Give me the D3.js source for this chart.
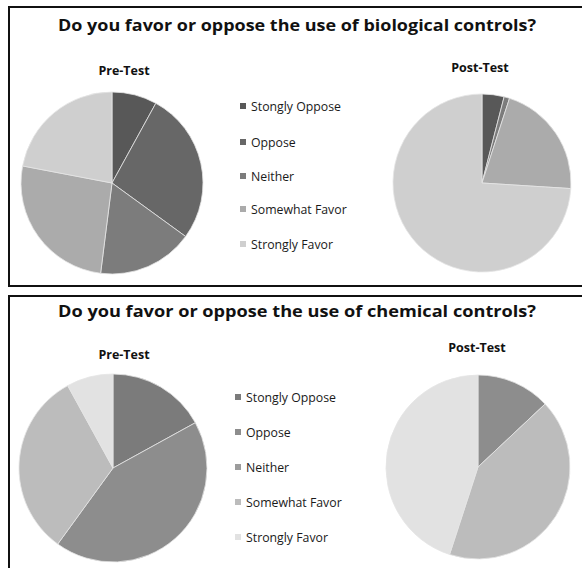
<!DOCTYPE html>
<html>
<head>
<meta charset="utf-8">
<script src="https://cdn.jsdelivr.net/npm/d3@7"></script>
<style>
  body { margin: 0; background: #fff; }
  svg { display: block; }
</style>
</head>
<body>
<div id="chart"></div>
<script>
// categories shared by both charts
const categories = ['Stongly Oppose', 'Oppose', 'Neither', 'Somewhat Favor', 'Strongly Favor'];

// percentages
const bioPre = [8, 27, 17, 26, 22];
const bioPost = [4, 0, 1, 21, 74];
const chemPre = [17, 43, 0, 32, 8];
const chemPost = [0, 13, 0, 42, 45];

const bioColors = ['#585858', '#676767', '#7c7c7c', '#ababab', '#cfcfcf'];
const chemColors = ['#7b7b7b', '#8d8d8d', '#9c9c9c', '#bcbcbc', '#e2e2e2'];

const titles = [
  'Do you favor or oppose the use of biological controls?',
  'Do you favor or oppose the use of chemical controls?'
];

const w = 582;
const h = 568;
const font = "'Open Sans', sans-serif";

const svg = d3.select('#chart').append('svg')
  .attr('width', w)
  .attr('height', h);

const pie = d3.pie().sort(null).value(d => d);

const panels = [
  { y: 7, height: 279, title: titles[0], titleY: 31, colors: bioColors,
    pies: [
      { label: 'Pre-Test', data: bioPre, cx: 112, cy: 183, r: 91, labelX: 124, labelY: 75 },
      { label: 'Post-Test', data: bioPost, cx: 482, cy: 183, r: 89, labelX: 480, labelY: 72 }
    ],
    legendX: 243, legendY: [106, 142, 176, 209, 244] },
  { y: 296, height: 300, title: titles[1], titleY: 317, colors: chemColors,
    pies: [
      { label: 'Pre-Test', data: chemPre, cx: 113, cy: 468, r: 94, labelX: 124, labelY: 359 },
      { label: 'Post-Test', data: chemPost, cx: 478, cy: 467, r: 92, labelX: 477, labelY: 352 }
    ],
    legendX: 238, legendY: [397, 432, 467, 502, 537] }
];

panels.forEach(p => {
  const g = svg.append('g');

  // frame (right / bottom edges run off the picture)
  g.append('rect')
    .attr('x', 9)
    .attr('y', p.y)
    .attr('width', 620)
    .attr('height', p.height)
    .attr('fill', 'none')
    .attr('stroke', '#111')
    .attr('stroke-width', 2);

  g.append('text')
    .attr('x', 297)
    .attr('y', p.titleY)
    .attr('text-anchor', 'middle')
    .attr('font-family', font)
    .attr('font-weight', 'bold')
    .attr('font-size', 16.5)
    .attr('textLength', 478)
    .attr('lengthAdjust', 'spacingAndGlyphs')
    .attr('fill', '#111')
    .text(p.title);

  const color = d3.scaleOrdinal().domain(categories).range(p.colors);

  p.pies.forEach(pc => {
    const arc = d3.arc().innerRadius(0).outerRadius(pc.r);

    g.append('text')
      .attr('x', pc.labelX)
      .attr('y', pc.labelY)
      .attr('text-anchor', 'middle')
      .attr('font-family', font)
      .attr('font-weight', 'bold')
      .attr('font-size', 12.5)
      .attr('fill', '#111')
      .text(pc.label);

    g.append('g')
      .attr('transform', `translate(${pc.cx}, ${pc.cy})`)
      .selectAll('path')
      .data(pie(pc.data))
      .enter()
      .append('path')
      .attr('d', arc)
      .attr('fill', (d, i) => color(categories[i]))
      .attr('stroke', '#e4e4e4')
      .attr('stroke-width', d => d.value > 0 ? 0.8 : 0);
  });

  // LEGEND
  const leg = g.selectAll('.leg')
    .data(categories)
    .enter()
    .append('g')
    .attr('transform', (d, i) => `translate(${p.legendX}, ${p.legendY[i]})`);

  leg.append('rect')
    .attr('x', -3)
    .attr('y', -3)
    .attr('width', 6)
    .attr('height', 6)
    .attr('fill', d => color(d));

  leg.append('text')
    .attr('x', 8)
    .attr('y', 4.5)
    .attr('font-family', font)
    .attr('font-size', 12.3)
    .attr('fill', '#1a1a1a')
    .text(d => d);
});
</script>
</body>
</html>
